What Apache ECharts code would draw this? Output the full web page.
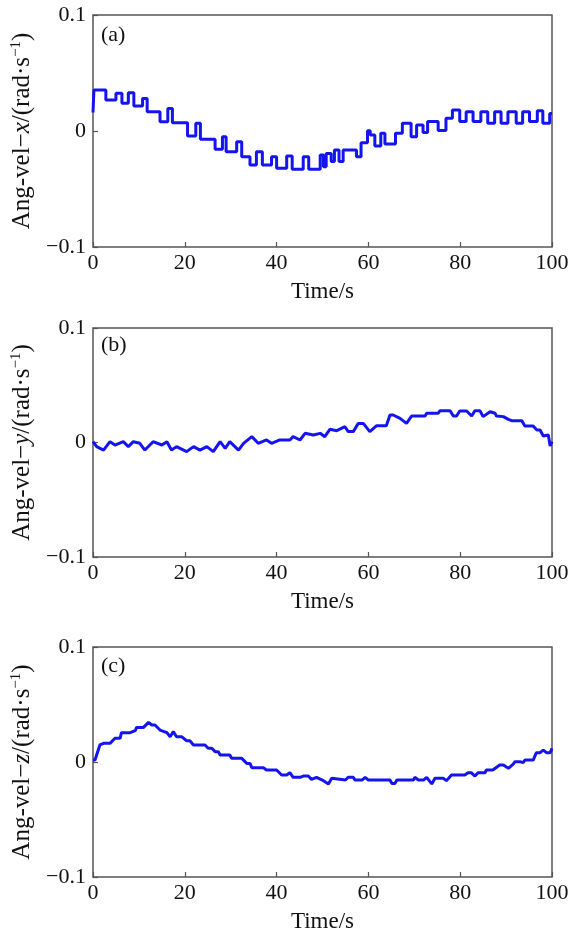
<!DOCTYPE html>
<html>
<head>
<meta charset="utf-8">
<script src="https://cdn.jsdelivr.net/npm/echarts@6/dist/echarts.min.js"></script>
<style>
  html, body { margin: 0; padding: 0; background: #fff; }
  #chart { width: 568px; height: 929px; }
</style>
</head>
<body>
<div id="chart"></div>
<script>
// tick labels
var xTicks = [0, 20, 40, 60, 80, 100];
var yTickLabels = { '0.1': '0.1', '0': '0', '-0.1': '\u22120.1' };
var panelTags = ['(a)', '(b)', '(c)'];
var axisAxes = ['x', 'y', 'z'];

// (a) angular velocity x, step-held samples
var aTime = [0, 0.2, 2.8, 5.0, 6.3, 7.7, 8.9, 10.8, 11.8, 14.6, 16.3, 17.3, 20.6, 22.4, 23.4, 26.6, 28.2, 29.0,
  31.3, 32.4, 34.2, 35.6, 36.9, 38.9, 40.0, 42.2, 43.4, 45.8, 47.0, 49.5, 50.2, 50.8, 51.9, 52.6, 53.6, 54.5,
  57.4, 58.4, 59.8, 60.4, 61.4, 62.7, 63.6, 65.9, 67.4, 69.3, 70.5, 71.9, 72.9, 75.2, 76.9, 78.3, 79.9, 81.3,
  82.8, 84.5, 86.0, 87.5, 88.9, 90.4, 92.2, 93.6, 95.1, 96.8, 98.0, 99.5, 100];
var aVel = [0.016, 0.0353, 0.0267, 0.0325, 0.0239, 0.033, 0.0216, 0.028, 0.0167, 0.008, 0.0195, 0.0072, -0.0043,
  0.0066, -0.0072, -0.0158, -0.0049, -0.0178, -0.0092, -0.0221, -0.0293, -0.0178, -0.0293, -0.0221, -0.0322,
  -0.0216, -0.033, -0.0221, -0.033, -0.0207, -0.0308, -0.0193, -0.0264, -0.0164, -0.0264, -0.0164, -0.0221,
  -0.0101, 0.0003, -0.0034, -0.013, -0.002, -0.0112, -0.002, 0.0066, -0.0049, 0.0052, -0.0014, 0.0081, 0.0005,
  0.0109, 0.0181, 0.0081, 0.0167, 0.0081, 0.0167, 0.0066, 0.0167, 0.0066, 0.0167, 0.0066, 0.0167, 0.0081,
  0.0175, 0.0066, 0.015, 0.015];

// (b) angular velocity y
var bTime = [0, 0.8, 2.3, 3.7, 4.8, 6.6, 7.7, 8.8, 10.2, 11.3, 13.1, 15.0, 16.1, 17.1, 18.2, 20.4, 21.9, 23.3,
  24.8, 26.2, 27.7, 28.8, 29.8, 31.7, 32.8, 34.6, 36.0, 37.8, 38.9, 40.7, 42.9, 43.6, 45.1, 46.2, 48.0, 49.5,
  50.5, 51.6, 53.1, 54.9, 55.6, 56.7, 57.8, 58.9, 60.3, 61.8, 63.9, 64.7, 65.4, 66.9, 68.3, 69.4, 72.3, 72.7,
  75.2, 75.6, 77.8, 78.5, 79.2, 79.9, 81.4, 82.5, 83.2, 84.3, 85.0, 86.5, 87.6, 87.9, 89.4, 90.5, 91.2, 93.4,
  94.1, 95.9, 96.7, 97.4, 98.1, 99.2, 99.6, 100];
var bVel = [0.0007, -0.0036, -0.0066, 0.0007, -0.0022, 0.0007, -0.0036, 0.0007, -0.0007, -0.0066, 0.0007,
  -0.0022, 0.0007, -0.0066, -0.0036, -0.008, -0.0036, -0.0066, -0.0036, -0.008, 0.0007, -0.0051, 0.0007,
  -0.0066, -0.0007, 0.0051, -0.0007, 0.0022, -0.0007, 0.0022, 0.0022, 0.0051, 0.0022, 0.008, 0.0066, 0.008,
  0.0051, 0.0115, 0.0103, 0.0138, 0.0095, 0.0095, 0.0167, 0.0167, 0.0095, 0.0147, 0.0147, 0.024, 0.024, 0.0211,
  0.0167, 0.0231, 0.0231, 0.0255, 0.0255, 0.0278, 0.0278, 0.0231, 0.0231, 0.0275, 0.0275, 0.0231, 0.0278,
  0.0278, 0.0226, 0.0269, 0.0255, 0.0231, 0.0226, 0.0202, 0.0191, 0.0191, 0.0144, 0.0144, 0.0109, 0.0109,
  0.0057, 0.0066, -0.003, 0.0007];

// (c) angular velocity z
var cTime = [0, 0.44, 1.5, 2.3, 3.7, 4.8, 5.9, 6.2, 8.1, 9.2, 9.5, 11.0, 12.1, 12.8, 13.5, 14.6, 16.1, 16.8,
  17.5, 18.2, 19.3, 19.7, 20.4, 21.1, 21.9, 24.4, 25.1, 25.9, 26.6, 27.3, 27.7, 29.8, 30.2, 31.3, 32.4, 32.8,
  33.5, 34.2, 34.6, 37.1, 37.8, 40.0, 41.1, 42.2, 42.9, 43.6, 45.1, 45.8, 46.9, 47.6, 48.0, 48.7, 50.2, 51.3,
  52.0, 52.4, 55.0, 55.6, 56.7, 57.1, 58.6, 59.3, 60.0, 64.7, 65.1, 65.8, 66.2, 69.8, 70.1, 70.9, 72.0, 72.7,
  73.8, 74.5, 76.3, 77.0, 77.4, 78.1, 81.0, 81.7, 82.4, 83.2, 83.9, 85.4, 85.7, 87.1, 87.5, 88.6, 89.4, 90.5,
  91.6, 91.9, 93.0, 93.7, 94.1, 95.9, 96.6, 97.4, 98.1, 98.8, 99.6, 100];
var cVel = [0.0017, 0.0017, 0.0148, 0.0162, 0.0162, 0.0206, 0.0206, 0.0255, 0.0255, 0.0272, 0.0301, 0.0301,
  0.0345, 0.0322, 0.0322, 0.0278, 0.0255, 0.022, 0.0264, 0.022, 0.022, 0.0206, 0.0185, 0.0185, 0.0148, 0.0148,
  0.0119, 0.0119, 0.009, 0.009, 0.0061, 0.0061, 0.0032, 0.0032, 0.0032, 0.0017, -0.0012, -0.0012, -0.0049,
  -0.0049, -0.007, -0.007, -0.0113, -0.0113, -0.0093, -0.0133, -0.0133, -0.0122, -0.0122, -0.0151, -0.0151,
  -0.0133, -0.0162, -0.0191, -0.0142, -0.0157, -0.0157, -0.0133, -0.0133, -0.0157, -0.0157, -0.0133, -0.0157,
  -0.0157, -0.0186, -0.0186, -0.0157, -0.0157, -0.0133, -0.0157, -0.0157, -0.0133, -0.0191, -0.0142, -0.0142,
  -0.0162, -0.0162, -0.0113, -0.0113, -0.0093, -0.0093, -0.0122, -0.0093, -0.0093, -0.007, -0.007, -0.0084,
  -0.0026, -0.0026, -0.0055, -0.0017, 0.0003, 0.0003, -0.0006, 0.0017, 0.0017, 0.0081, 0.0081, 0.0104, 0.0081,
  0.0081, 0.0119];

var FONT = '"Liberation Serif", "Times New Roman", serif';
var TXT = '#111';
var FRAME = '#555';
var LINE = '#1414f0';

function zip(t, v) {
  return t.map(function (x, i) { return [x, v[i]]; });
}

var panels = [
  { top: 15, height: 232, data: zip(aTime, aVel), step: 'end', tagTop: 24 },
  { top: 328, height: 229, data: zip(bTime, bVel), step: false, tagTop: 334 },
  { top: 647, height: 230, data: zip(cTime, cVel), step: false, tagTop: 655 }
];

var grids = [], xAxes = [], yAxes = [], series = [], graphics = [];

panels.forEach(function (p, i) {
  grids.push({
    left: 93, right: 16, top: p.top, height: p.height,
    outerBoundsMode: 'none', containLabel: false,
    show: true, borderColor: FRAME, borderWidth: 1.5, backgroundColor: 'transparent'
  });
  xAxes.push({
    type: 'value', gridIndex: i, min: 0, max: 100, interval: 20,
    name: 'Time/s', nameLocation: 'middle', nameGap: 33,
    nameTextStyle: { fontFamily: FONT, fontSize: 23, color: TXT },
    axisLine: { show: false, onZero: false },
    axisTick: { inside: true, length: 5, lineStyle: { color: FRAME, width: 1.2 } },
    axisLabel: { fontFamily: FONT, fontSize: 22, color: TXT, margin: 5,
      customValues: xTicks },
    splitLine: { show: false }
  });
  yAxes.push({
    type: 'value', gridIndex: i, min: -0.1, max: 0.1, interval: 0.1,
    name: 'Ang-vel\u2212{i|' + axisAxes[i] + '}/(rad\u00b7s{sup|\u22121})',
    nameLocation: 'middle', nameGap: 56, nameRotate: 90,
    nameTextStyle: {
      fontFamily: FONT, fontSize: 25, color: TXT,
      rich: {
        i: { fontFamily: FONT, fontSize: 25, fontStyle: 'italic', color: TXT },
        sup: { fontFamily: FONT, fontSize: 15, color: TXT, verticalAlign: 'top', lineHeight: 28 }
      }
    },
    axisLine: { show: false, onZero: false },
    axisTick: { inside: true, length: 5, lineStyle: { color: FRAME, width: 1.2 } },
    axisLabel: {
      fontFamily: FONT, fontSize: 22, color: TXT, margin: 7,
      formatter: function (v) {
        var k = String(Math.round(v * 10) / 10);
        return yTickLabels[k] !== undefined ? yTickLabels[k] : k;
      }
    },
    splitLine: { show: false }
  });
  series.push({
    type: 'line', xAxisIndex: i, yAxisIndex: i,
    data: p.data, step: p.step, showSymbol: false, symbol: 'none',
    lineStyle: { color: LINE, width: 3 },
    animation: false
  });
  graphics.push({
    type: 'text', left: 101, top: p.tagTop,
    style: { text: panelTags[i], fontFamily: FONT, fontSize: 22, fill: TXT }
  });
});

var myChart = echarts.init(document.getElementById('chart'), null, { renderer: 'canvas' });
var option = {
  animation: false,
  backgroundColor: '#fff',
  grid: grids,
  xAxis: xAxes,
  yAxis: yAxes,
  series: series,
  graphic: graphics
};
option && myChart.setOption(option);
</script>
</body>
</html>
